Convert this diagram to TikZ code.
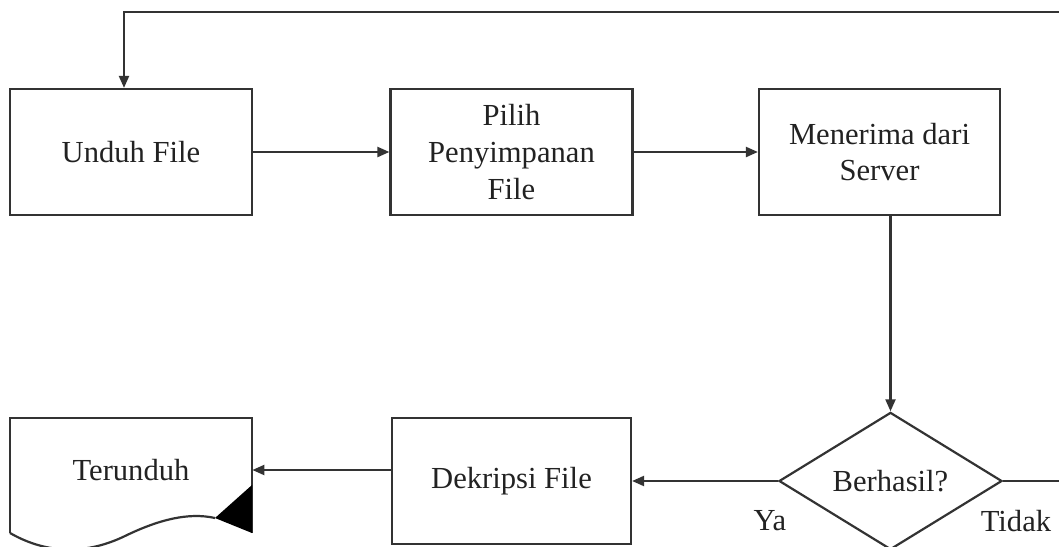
\documentclass[tikz,border=0pt]{standalone}
\usepackage{fontspec}
\setmainfont{Liberation Serif}
\usetikzlibrary{arrows.meta,shapes.geometric}
\definecolor{ink}{HTML}{333333}
\definecolor{txt}{HTML}{222222}
\tikzset{
  base/.style={font=\fontsize{15.3}{18.3}\selectfont, text=txt, align=center},
  proc/.style={base, draw=ink, line width=1.1pt, minimum width=121pt, minimum height=63pt, inner sep=0pt},
  decision/.style={base, diamond, draw=ink, line width=1.1pt, minimum width=111.5pt, minimum height=66pt, inner sep=0pt},
  flow/.style={draw=ink, line width=1.1pt, -{Triangle[length=6pt,width=5pt]}},
  plain/.style={draw=ink, line width=1.1pt},
  lbl/.style={base}
}
\begin{document}
\begin{tikzpicture}[x=0.5pt, y=-0.5pt]
\useasboundingbox (0,0) rectangle (1059,546);
\clip (0,0) rectangle (1059,546);

% top row of steps
\node[proc] (unduh) at (131,152) {Unduh File};
\node[proc] (pilih) at (511.5,152) {Pilih\\Penyimpanan\\File};
\node[proc, minimum width=120.5pt] (terima) at (879.5,152) {Menerima dari\\Server};

% bottom row
\node[decision] (cek) at (890.5,481) {Berhasil?};
\node[proc, minimum width=119.5pt] (dekripsi) at (511.5,481) {Dekripsi File};
\node[base, minimum width=121pt, inner sep=0pt] (hasil) at (131,470) {Terunduh};

% document outline with wavy bottom and dark corner
\coordinate (dtl) at (10,418);
\coordinate (dtr) at (252,418);
\coordinate (dbl) at (10,533);
\coordinate (dbr) at (252,533);
\coordinate (dcr) at (215,518);
\draw[plain, line join=miter] (dbl) -- (dtl) -- (dtr) -- (dbr);
\draw[plain] (dbl) .. controls (50,556) and (90,553) .. (125,536)
  .. controls (158,520) and (188,512) .. (dcr);
\fill[black] (dcr) -- (252,485) -- (dbr) -- cycle;

% loop back from the right edge to the first step
\coordinate (backin) at (1059,12);
\coordinate (backcorner) at (124,12);
\coordinate (tidakout) at (1059,481);

% connectors
\draw[flow] (unduh) -- (pilih);
\draw[flow] (pilih) -- (terima);
\draw[flow] (terima.south -| cek.north) -- (cek.north);
\draw[flow] (cek.west) -- (dekripsi.east);
\draw[flow] (dekripsi.west |- hasil.east) -- (hasil.east);
\draw[plain] (cek.east) -- (tidakout);
\draw[flow] (backin) -- (backcorner) -- (backcorner |- unduh.north);

% branch labels
\node[lbl] (ya) at (770,521) {Ya};
\node[lbl] (tidak) at (1016,521) {Tidak};
\end{tikzpicture}
\end{document}
